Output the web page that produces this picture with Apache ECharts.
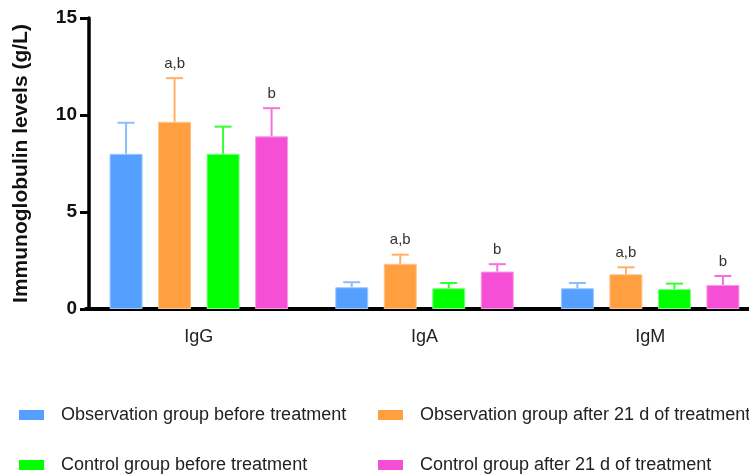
<!DOCTYPE html>
<html>
<head>
<meta charset="utf-8">
<script src="https://cdn.jsdelivr.net/npm/echarts@6/dist/echarts.min.js"></script>
<style>
  html, body { margin: 0; padding: 0; background: #fff; }
  #chart { width: 749px; height: 474px; }
</style>
</head>
<body>
<div id="chart"></div>
<script>
// categories and group names
var categories = ['IgG', 'IgA', 'IgM'];
var groupNames = [
  'Observation group before treatment',
  'Observation group after 21 d of treatment',
  'Control group before treatment',
  'Control group after 21 d of treatment'
];
// mean values per group (g/L)
var obsBefore = [8.0, 1.12, 1.07];
var obsAfter = [9.65, 2.33, 1.79];
var ctrlBefore = [8.0, 1.07, 1.03];
var ctrlAfter = [8.9, 1.93, 1.24];
// upper end of error bars (mean + SD)
var obsBeforeErr = [9.6, 1.38, 1.34];
var obsAfterErr = [11.9, 2.8, 2.15];
var ctrlBeforeErr = [9.4, 1.34, 1.31];
var ctrlAfterErr = [10.35, 2.31, 1.7];
// significance marks
var obsBeforeMark = ['', '', ''];
var obsAfterMark = ['a,b', 'a,b', 'a,b'];
var ctrlBeforeMark = ['', '', ''];
var ctrlAfterMark = ['b', 'b', 'b'];
var yTicks = [0, 5, 10, 15];

var colors = ['#559FFF', '#FF9F40', '#00FF00', '#F54FD5'];
var borderColors = ['#9CC8FF', '#FFC48A', '#7CFF7C', '#F99BE6'];
var errColors = ['#8DBDFF', '#FFB066', '#33FF33', '#F66FDB'];

var means = [obsBefore, obsAfter, ctrlBefore, ctrlAfter];
var errs = [obsBeforeErr, obsAfterErr, ctrlBeforeErr, ctrlAfterErr];
var marks = [obsBeforeMark, obsAfterMark, ctrlBeforeMark, ctrlAfterMark];

var font = 'Arial, "Liberation Sans", sans-serif';

var barW = 33;
var gapRatio = 0.47;
var step = barW * (1 + gapRatio);

var chart = echarts.init(document.getElementById('chart'));

var series = [];
for (var i = 0; i < 4; i++) {
  series.push({
    name: groupNames[i],
    type: 'bar',
    barWidth: barW,
    barGap: (gapRatio * 100) + '%',
    itemStyle: {color: colors[i], borderColor: borderColors[i], borderWidth: 1},
    data: means[i],
    z: 2
  });
}
// error bars + significance letters
for (var k = 0; k < 4; k++) {
  (function (idx) {
    series.push({
      type: 'custom',
      name: groupNames[idx] + ' err',
      z: 1,
      data: categories.map(function (c, j) { return [j, means[idx][j], errs[idx][j]]; }),
      renderItem: function (params, api) {
        var base = api.coord([api.value(0), api.value(1)]);
        var top = api.coord([api.value(0), api.value(2)]);
        var x = base[0] + (idx - 1.5) * step;
        var cap = 8.5;
        var mark = marks[idx][params.dataIndex];
        var children = [
          {type: 'line', shape: {x1: x, y1: base[1], x2: x, y2: top[1]},
            style: {stroke: errColors[idx], lineWidth: 2}},
          {type: 'line', shape: {x1: x - cap, y1: top[1], x2: x + cap, y2: top[1]},
            style: {stroke: errColors[idx], lineWidth: 2}}
        ];
        if (mark) {
          children.push({
            type: 'text',
            style: {text: mark, x: x, y: top[1] - 7, align: 'center', verticalAlign: 'bottom',
              font: '15px ' + font, fill: '#333'}
          });
        }
        return {type: 'group', children: children};
      }
    });
  })(k);
}

var legendPos = [[14, 401], [373, 401], [14, 451], [373, 451]];
var legends = groupNames.map(function (n, i) {
  return {
    data: [n],
    left: legendPos[i][0],
    top: legendPos[i][1],
    itemWidth: 25,
    itemHeight: 10,
    icon: 'rect',
    itemStyle: {borderWidth: 0},
    textStyle: {fontSize: 18, color: '#222', fontFamily: font, padding: [0, 0, 0, 12]}
  };
});

chart.setOption({
  animation: false,
  color: colors,
  grid: {left: 86, top: 18, width: 677, height: 291, outerBoundsMode: 'none'},
  legend: legends,
  xAxis: {
    type: 'category',
    data: categories,
    axisLine: {lineStyle: {color: '#000', width: 4}},
    axisTick: {show: false},
    axisLabel: {fontSize: 18, color: '#222', margin: 19, fontFamily: font}
  },
  yAxis: {
    type: 'value',
    min: 0,
    max: 15,
    interval: 5,
    offset: -3,
    name: 'Immunoglobulin levels (g/L)',
    nameLocation: 'middle',
    nameGap: 57,
    nameTextStyle: {fontSize: 21, fontWeight: 'bold', color: '#111', fontFamily: font},
    axisLine: {show: true, lineStyle: {color: '#000', width: 3.5}},
    axisTick: {show: true, length: 9, lineStyle: {color: '#000', width: 3}},
    splitLine: {show: false},
    axisLabel: {
      fontSize: 19, fontWeight: 'bold', color: '#111', margin: 12,
      fontFamily: font,
      formatter: function (v) { return yTicks.indexOf(v) >= 0 ? String(v) : ''; }
    }
  },
  series: series
});
</script>
</body>
</html>
